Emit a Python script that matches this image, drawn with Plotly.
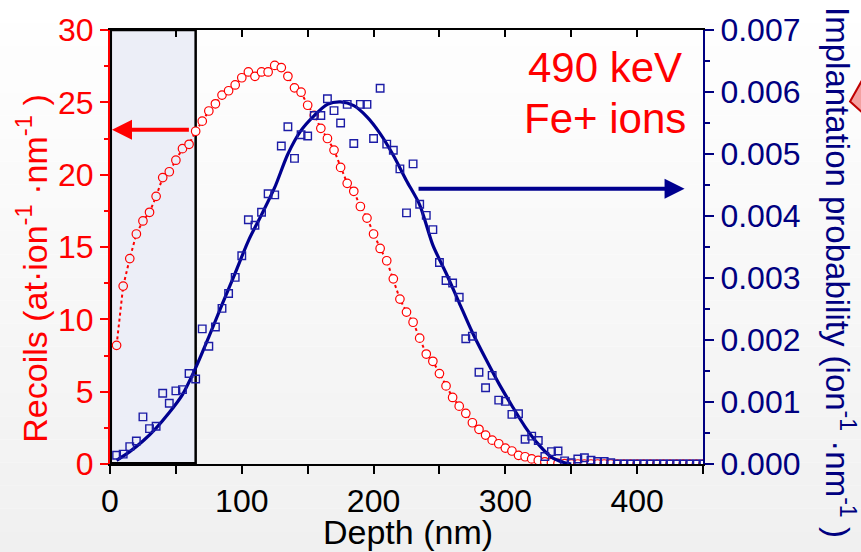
import plotly.graph_objects as go

# ---------------- data ----------------
depth = list(range(5, 455, 5))  # nm, 5 ... 450

recoils = [8.2, 12.3, 14.2, 15.9, 16.8, 17.4, 18.5, 19.8, 20.2, 21.0,
           21.8, 22.1, 23.0, 23.7, 24.4, 24.9, 25.5, 25.8, 26.2, 26.7,
           27.1, 26.8, 27.1, 27.1, 27.55, 27.4, 26.8, 26.0, 25.7, 24.8,
           24.1, 23.2, 22.5, 21.7, 20.5, 19.4, 18.85, 17.8, 17.0, 15.9,
           14.9, 14.05, 12.8, 11.4, 10.5, 9.8, 8.7, 7.6, 7.1, 6.25,
           5.4, 4.6, 4.0, 3.5, 2.85, 2.4, 2.0, 1.65, 1.4, 1.1,
           0.9, 0.6, 0.5, 0.35, 0.25, 0.15, 0.1, 0.05, 0.03, 0.0,
           0.0, 0.0, 0.0, 0.0, 0.0, 0.0, 0.0, 0.0, 0.0, 0.0,
           0.0, 0.0, 0.0, 0.0, 0.0, 0.0, 0.0, 0.0, 0.0, 0.0]

# implantation probability, in units of 1e-3 ion^-1 nm^-1
implant_1e3 = [0.14, 0.16, 0.28, 0.37, 0.76, 0.57, 0.61, 1.14, 0.98, 1.18,
               1.20, 1.46, 1.37, 2.18, 1.90, 2.21, 2.51, 2.75, 3.01, 3.36,
               3.94, 3.85, 4.06, 4.36, 4.34, 5.13, 5.44, 4.93, 5.31, 5.29,
               5.62, 5.62, 5.89, 5.70, 5.50, 5.80, 5.17, 5.80, 5.80, 5.25,
               6.06, 5.16, 5.06, 4.76, 4.05, 4.84, 4.19, 4.01, 3.78, 3.25,
               2.96, 2.92, 2.69, 2.02, 2.06, 1.48, 1.23, 1.43, 1.03, 1.01,
               0.80, 0.81, 0.40, 0.45, 0.38, 0.12, 0.20, 0.21, 0.05, 0.02,
               0.08, 0.10, 0.06, 0.04, 0.04, 0.02, 0.0, 0.0, 0.0, 0.0,
               0.0, 0.0, 0.0, 0.0, 0.0, 0.0, 0.0, 0.0, 0.0, 0.0]

fit_depth = [5, 15, 25, 35, 45, 55, 65, 75, 85, 95, 105, 115, 125, 135, 145,
             155, 165, 175, 185, 195, 205, 215, 225, 235, 245, 255, 265, 275,
             285, 295, 305, 315, 325, 335, 345, 350]
fit_1e3 = [0.06, 0.20, 0.37, 0.58, 0.83, 1.12, 1.55, 2.05, 2.57, 3.08, 3.60,
           4.02, 4.46, 5.00, 5.38, 5.62, 5.80, 5.84, 5.78, 5.60, 5.33, 4.98,
           4.57, 4.18, 3.53, 3.08, 2.60, 2.12, 1.70, 1.30, 0.94, 0.60, 0.32,
           0.11, 0.02, 0.0]

implant = [v * 1e-3 for v in implant_1e3]
fit = [v * 1e-3 for v in fit_1e3]

x_ticks = [0, 100, 200, 300, 400]
box_depth = 65  # nm, shaded region width

FONT = "Liberation Sans, Arial, sans-serif"
RED = "#ff0000"
NAVY = "#000080"
BLUE = "#00008f"
SQ = "#1c1ca6"
BOX_FILL = "#eceef7"

fig = go.Figure()

# red recoils: line + circles
circle_fill = [BOX_FILL if d < box_depth else "#ffffff" for d in depth]
fig.add_trace(go.Scatter(
    x=depth, y=recoils, mode="lines+markers", yaxis="y",
    line=dict(color=RED, width=2, dash="3px,3px"),
    marker=dict(symbol="circle", size=8.5, color=circle_fill,
                line=dict(color=RED, width=1.2)),
    hoverinfo="skip"))

# blue fit curve
fig.add_trace(go.Scatter(
    x=fit_depth, y=fit, mode="lines", yaxis="y2",
    line=dict(color=BLUE, width=3.2, shape="spline", smoothing=0.8),
    hoverinfo="skip"))

# blue squares
fig.add_trace(go.Scatter(
    x=depth, y=implant, mode="markers", yaxis="y2",
    marker=dict(symbol="square-open", size=7.5, color=SQ,
                line=dict(color=SQ, width=1.4)),
    hoverinfo="skip"))

# invisible trace to drive the top axis
fig.add_trace(go.Scatter(x=[0, 450], y=[0, 0], xaxis="x2", yaxis="y",
                         mode="markers", marker=dict(opacity=0),
                         hoverinfo="skip"))

# ---------------- background gradient (styling) ----------------
shapes = []
n = 24
y_top, y_bot = 1.07, -0.21
for i in range(n):
    y1 = y_top - (y_top - y_bot) * i / n
    y0 = y_top - (y_top - y_bot) * (i + 1) / n
    g = int(round(255 - 15 * (i + 0.5) / n))
    shapes.append(dict(type="rect", xref="paper", yref="paper",
                       x0=-0.25, x1=1.35, y0=y0, y1=y1,
                       fillcolor=f"rgb({g},{g},{g})", line=dict(width=0),
                       layer="below"))
# shaded surface region
shapes.append(dict(type="rect", xref="x", yref="y", x0=0.6, x1=box_depth,
                   y0=0.05, y1=30, fillcolor=BOX_FILL,
                   line=dict(color="black", width=2.5), layer="below"))
# partial red arrow at the right edge
shapes.append(dict(type="path", xref="paper", yref="paper",
                   path="M 1.248 0.835 L 1.285 0.925 L 1.285 0.790 Z",
                   fillcolor="#f4a0a0", line=dict(color="#c00000", width=2)))

annotations = [
    dict(xref="paper", yref="paper", x=0.835, y=0.913, xanchor="center",
         yanchor="middle", text="490 keV", showarrow=False,
         font=dict(family=FONT, size=42, color=RED)),
    dict(xref="paper", yref="paper", x=0.835, y=0.796, xanchor="center",
         yanchor="middle", text="Fe+ ions", showarrow=False,
         font=dict(family=FONT, size=42, color=RED)),
    # red arrow -> left axis
    dict(xref="x", yref="y", x=1.5, y=23.1, axref="x", ayref="y",
         ax=61, ay=23.1, text="", showarrow=True, arrowhead=2,
         arrowsize=1.0, arrowwidth=4, arrowcolor=RED, standoff=0),
    # blue arrow -> right axis
    dict(xref="x", yref="y2", x=436, y=0.00444, axref="x", ayref="y2",
         ax=233, ay=0.00444, text="", showarrow=True, arrowhead=2,
         arrowsize=1.0, arrowwidth=4, arrowcolor=BLUE, standoff=0),
    # axis titles
    dict(xref="paper", yref="paper", x=0.503, y=-0.156, xanchor="center",
         text="Depth (nm)", showarrow=False, yanchor="middle",
         font=dict(family=FONT, size=34, color="black")),
    dict(xref="paper", yref="paper", x=-0.1315, y=0.45,
         text="Recoils (at·ion<sup>-1</sup> ·nm<sup>-1</sup> )",
         showarrow=False, textangle=-90, xanchor="center", yanchor="middle",
         font=dict(family=FONT, size=34, color=RED)),
    dict(xref="paper", yref="paper", x=1.231, y=0.44,
         text="Implantation probability (ion<sup>-1</sup> ·nm<sup>-1</sup> )",
         showarrow=False, textangle=90, xanchor="center", yanchor="middle",
         font=dict(family=FONT, size=33, color=NAVY)),
]

fig.update_layout(
    width=861, height=552,
    margin=dict(l=110, r=158, t=28, b=88),
    paper_bgcolor="#ffffff", plot_bgcolor="rgba(0,0,0,0)",
    showlegend=False,
    font=dict(family=FONT),
    shapes=shapes, annotations=annotations,
    xaxis=dict(range=[0, 450], tickvals=x_ticks, ticktext=[str(v) for v in x_ticks],
               ticks="outside", ticklen=8, tickwidth=1.5, tickcolor="black",
               minor=dict(dtick=50, ticklen=8, tickwidth=1.5, tickcolor="black", ticks="outside"),
               showline=True, linecolor="black", linewidth=2,
               showgrid=False, zeroline=False,
               tickfont=dict(family=FONT, size=32, color="black")),
    xaxis2=dict(range=[0, 450], overlaying="x", side="top", anchor="y",
                dtick=50, ticks="inside", ticklen=7, tickwidth=1.5,
                tickcolor="black", showticklabels=False,
                showline=True, linecolor="black", linewidth=2,
                showgrid=False, zeroline=False),
    yaxis=dict(range=[0, 30], dtick=5, ticks="outside", ticklen=8,
               tickwidth=1.5, tickcolor=RED,
               minor=dict(dtick=2.5, ticklen=4, tickwidth=1.5, tickcolor=RED, ticks="outside"),
               showline=True, linecolor=RED, linewidth=2,
               showgrid=False, zeroline=False,
               tickfont=dict(family=FONT, size=32, color=RED)),
    yaxis2=dict(range=[0, 0.007], dtick=0.001, tickformat=".3f",
                overlaying="y", side="right", anchor="x",
                ticks="outside", ticklen=9, tickwidth=1.5, tickcolor=NAVY,
                minor=dict(dtick=0.0005, ticklen=5, tickwidth=1.5, tickcolor=NAVY, ticks="outside"),
                showline=True, linecolor=NAVY, linewidth=2,
                showgrid=False, zeroline=False,
                tickfont=dict(family=FONT, size=32, color=NAVY)),
)

fig.write_html("out.html", config={"displayModeBar": False},
               post_script="document.body.style.margin='0px';document.body.style.padding='0px';")
